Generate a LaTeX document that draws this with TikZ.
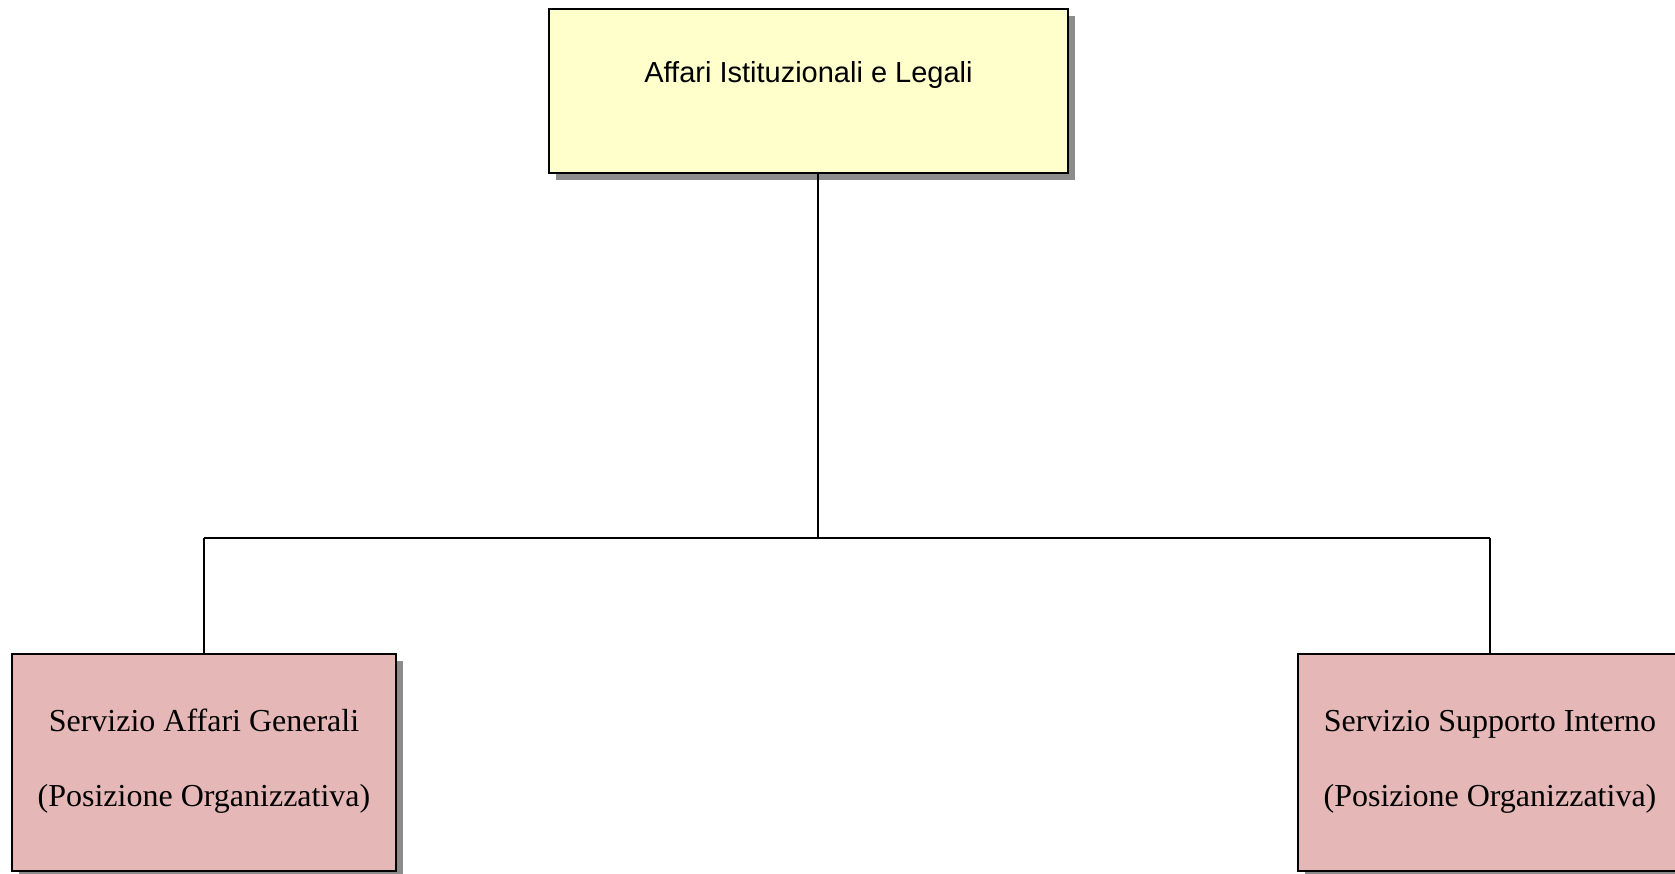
\documentclass[tikz,border=0pt]{standalone}
\usepackage{fontspec}
\setmainfont{Liberation Serif}
\newfontfamily\arialfont{Liberation Sans}
\usetikzlibrary{shadows}
\definecolor{topfill}{RGB}{255,255,204}
\definecolor{subfill}{RGB}{229,184,183}
\definecolor{shadowgray}{RGB}{140,140,140}
\begin{document}
\begin{tikzpicture}[x=1pt,y=-1pt,
  orgbox/.style={draw=black, line width=2pt, rectangle, inner sep=0pt,
    drop shadow={shadow xshift=7pt, shadow yshift=-7pt, fill=shadowgray, opacity=1}},
  topbox/.style={orgbox, fill=topfill, minimum width=519pt, minimum height=164pt},
  subbox/.style={orgbox, fill=subfill, minimum width=384pt, minimum height=217pt},
  toptext/.style={font=\arialfont\fontsize{29}{34}\selectfont, inner sep=0pt},
  subtext/.style={font=\fontsize{32}{75}\selectfont, align=center, inner sep=0pt},
  link/.style={draw=black, line width=1.5pt}]
\useasboundingbox (0,0) rectangle (1675,873);
\fill[white] (0,0) rectangle (1675,873);
\node[topbox] (top) at (808.5,90.5) {};
\node[toptext] (toptxt) at (808.5,74.5) {Affari Istituzionali e Legali};
\node[subbox] (left) at (204,762.5) {};
\node[subtext] (lefttxt) at (204,761.5) {Servizio Affari Generali\\(Posizione Organizzativa)};
\node[subbox] (right) at (1490,762.5) {};
\node[subtext] (righttxt) at (1490,761.5) {Servizio Supporto Interno\\(Posizione Organizzativa)};
\coordinate (hub) at (818,538);
\coordinate (hl) at (204,538);
\coordinate (hr) at (1490,538);
\draw[link] (top.south -| hub) -- (hub);
\draw[link] (hl) -- (hr);
\draw[link] (hl) -- (left.north);
\draw[link] (hr) -- (right.north);
\end{tikzpicture}
\end{document}
